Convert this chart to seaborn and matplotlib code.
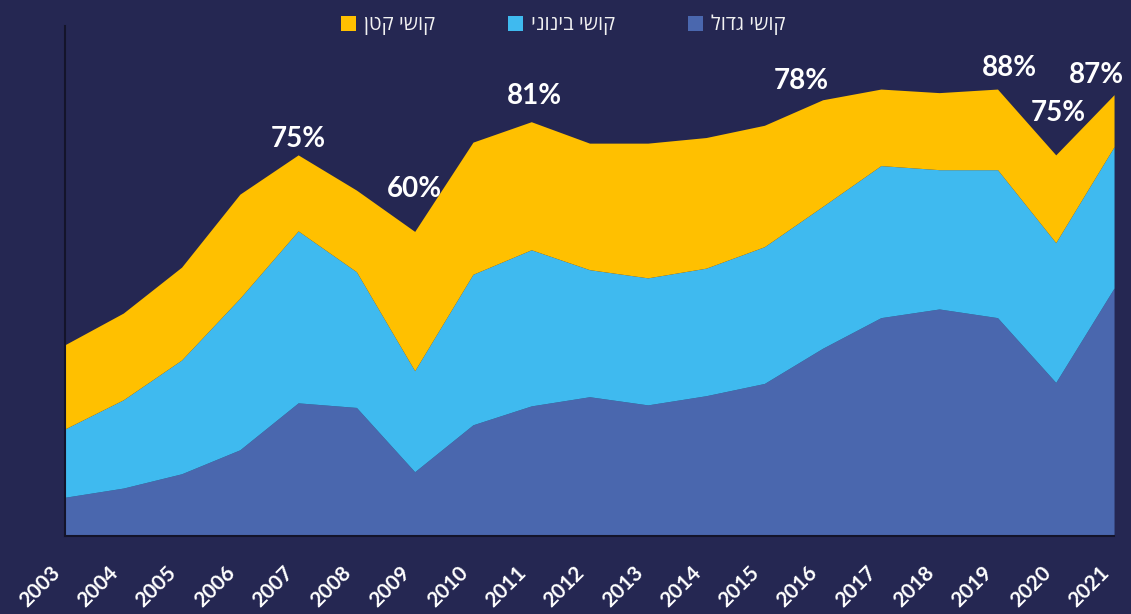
import numpy as np
import pandas as pd
import matplotlib
matplotlib.use('Agg')
import matplotlib.pyplot as plt
import matplotlib.transforms as mtransforms
from matplotlib.patches import Patch
import seaborn as sns

# dados (percentual acumulado por categoria)
anos = list(range(2003, 2022))
grande = [7.6, 9.4, 12.2, 16.9, 26.1, 25.2, 12.6, 21.8, 25.5, 27.3,
          25.7, 27.5, 29.9, 36.8, 42.8, 44.5, 42.8, 30.1, 48.6]
medio = [13.4, 17.3, 22.3, 29.7, 33.7, 26.6, 19.8, 29.5, 30.6, 24.9,
         24.9, 25.0, 26.8, 27.8, 29.8, 27.3, 29.0, 27.4, 27.7]
pequeno = [16.5, 17.0, 18.2, 20.4, 14.9, 16.0, 27.3, 25.9, 25.1, 24.8,
           26.4, 25.6, 23.8, 20.9, 15.0, 15.1, 15.8, 17.2, 10.2]
nomes = ['קושי גדול', 'קושי בינוני', 'קושי קטן']

# rótulos de percentual
rotulos = ['75%', '60%', '81%', '78%', '88%', '75%', '87%']
rot_x = [2007, 2009, 2011.05, 2015.63, 2019.2, 2020.04, 2020.7]
rot_y = [77.8, 68.0, 86.3, 89.2, 91.8, 82.9, 90.4]

fundo = '#252752'
cores = ['#4A67AE', '#3FBAEF', '#FFC000']

sns.set_theme(style='white')
plt.rcParams['font.family'] = ['Open Sans', 'DejaVu Sans']

df = pd.DataFrame({'ano': anos, 'grande': grande, 'medio': medio, 'pequeno': pequeno})

fig = plt.figure(figsize=(11.31, 6.14), dpi=100, facecolor=fundo)
ax = fig.add_axes([0.0575, 0.127, 0.9275, 0.831])
ax.set_facecolor(fundo)

ax.stackplot(df['ano'], df['grande'], df['medio'], df['pequeno'],
             colors=cores, linewidth=0)

ax.set_xlim(2003, 2021)
ax.set_ylim(0, 100)
ax.set_yticks([])
ax.set_xticks(anos)
ax.set_xticklabels([str(a) for a in anos], rotation=45, ha='right', va='center',
                   rotation_mode='anchor', color='white', fontweight='bold',
                   fontsize=15, family=['Lato', 'DejaVu Sans'])
ax.tick_params(axis='x', length=0, pad=24)
desloc = mtransforms.ScaledTranslation(-0.08, 0, fig.dpi_scale_trans)
for lbl in ax.get_xticklabels():
    lbl.set_transform(lbl.get_transform() + desloc)

for lado in ['top', 'right']:
    ax.spines[lado].set_visible(False)
for lado in ['left', 'bottom']:
    ax.spines[lado].set_color('#14142a')
    ax.spines[lado].set_linewidth(1.5)

for t, x, y in zip(rotulos, rot_x, rot_y):
    ax.text(x, y, t, ha='center', va='center', color='white',
            fontsize=20, fontweight='bold', family=['Lato', 'DejaVu Sans'])

# legenda (texto hebraico invertido para exibição)
handles = [Patch(facecolor=cores[i], edgecolor='none') for i in [2, 1, 0]]
labels = [nomes[i][::-1] for i in [2, 1, 0]]
leg = fig.legend(handles, labels, loc='center', bbox_to_anchor=(0.498, 0.959),
                 ncol=3, frameon=False, fontsize=14.5, handlelength=0.75,
                 handleheight=0.75, handletextpad=0.4, columnspacing=3.6)
for t in leg.get_texts():
    t.set_color('#f2f2f2')

fig.savefig('out.png', dpi=100, facecolor=fundo)
